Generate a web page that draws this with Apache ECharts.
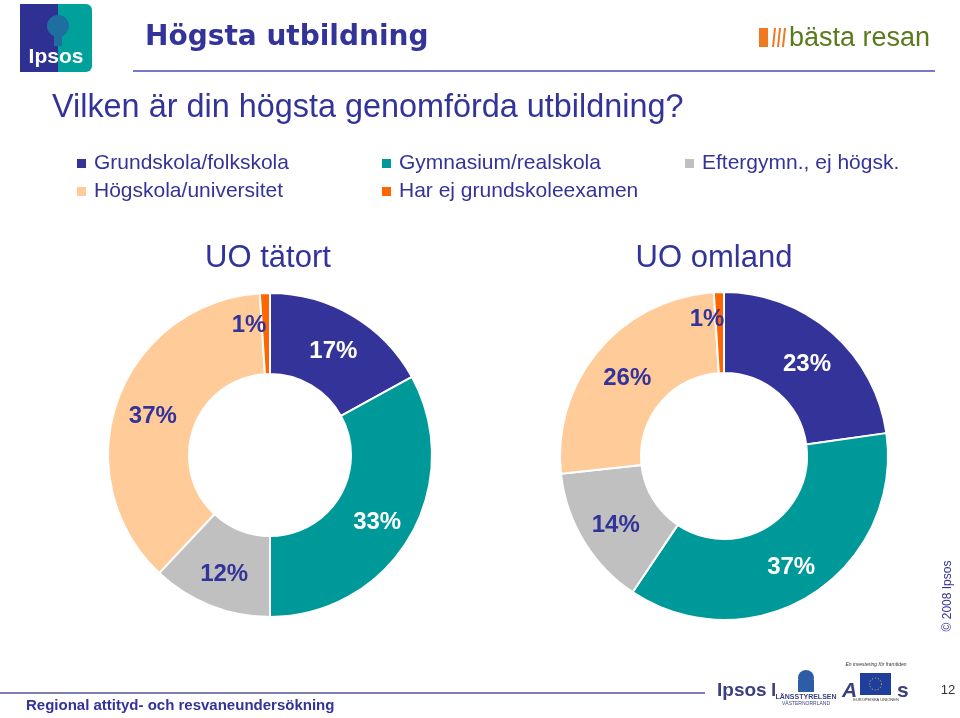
<!DOCTYPE html>
<html>
<head>
<meta charset="utf-8">
<script src="https://cdn.jsdelivr.net/npm/echarts@6/dist/echarts.min.js"></script>
<style>
html,body{margin:0;padding:0;background:#fff;}
#chart{width:960px;height:718px;}
</style>
</head>
<body>
<div id="chart"></div>
<script>
// ---- data ----
const categories = ['Grundskola/folkskola', 'Gymnasium/realskola', 'Eftergymn., ej högsk.', 'Högskola/universitet', 'Har ej grundskoleexamen'];
const tatortValues = [17, 33, 12, 37, 1];
const omlandValues = [23, 37, 14, 26, 1];
const panelTitles = ['UO tätort', 'UO omland'];

// ---- styles ----
const NAVY = '#333399';
const colors = ['#333399', '#009999', '#C0C0C0', '#FFCC99', '#FF6600'];
const labelColors = ['#ffffff', '#ffffff', NAVY, NAVY, NAVY];
const legendPos = [[75, 153], [380, 153], [683, 153], [75, 181], [380, 181]];

function buildData(values) {
  return values.map((v, i) => ({ name: categories[i], value: v, itemStyle: { color: colors[i] }, label: { color: labelColors[i] } }));
}
// label nudges (small slices get their label moved to the left of the slice, as in the original)
function nudge(values, smallShift) {
  return function (params) {
    const v = values[params.dataIndex];
    if (v < 3) return { dx: smallShift[0], dy: smallShift[1] };
    return { dy: 4 };
  };
}

const chart = echarts.init(document.getElementById('chart'), null, { renderer: 'canvas' });

const pieBase = {
  type: 'pie',
  startAngle: 90,
  clockwise: true,
  avoidLabelOverlap: false,
  itemStyle: { borderColor: '#ffffff', borderWidth: 2 },
  label: { show: true, position: 'inside', formatter: '{c}%', fontSize: 24, fontWeight: 'bold', fontFamily: 'Arial, Liberation Sans, sans-serif' },
  labelLine: { show: false },
  emphasis: { disabled: true }
};

const option = {
  animation: false,
  backgroundColor: '#ffffff',
  legend: categories.map((n, i) => ({
    data: [n],
    left: legendPos[i][0],
    top: legendPos[i][1],
    padding: 0,
    icon: 'rect',
    itemWidth: 11,
    itemHeight: 11,
    selectedMode: false,
    textStyle: { fontSize: 21, color: NAVY, fontFamily: 'Arial, Liberation Sans, sans-serif', padding: [0, 0, 0, 2] }
  })),
  series: [
    Object.assign({}, pieBase, { name: panelTitles[0], center: [270, 455], radius: [81, 162], data: buildData(tatortValues), labelLayout: nudge(tatortValues, [-17, -5]) }),
    Object.assign({}, pieBase, { name: panelTitles[1], center: [724, 456], radius: [83, 164], data: buildData(omlandValues), labelLayout: nudge(omlandValues, [-13, -10]) })
  ],
  graphic: [
    // Ipsos logo top-left
    { type: 'rect', shape: { x: 20, y: 4, width: 40, height: 68 }, style: { fill: '#2E3192' } },
    { type: 'rect', shape: { x: 58, y: 4, width: 34, height: 68, r: [0, 6, 6, 0] }, style: { fill: '#00A19A' } },
    { type: 'circle', shape: { cx: 58, cy: 26, r: 11 }, style: { fill: '#1E6FA0' } },
    { type: 'rect', shape: { x: 54, y: 34, width: 8, height: 12 }, style: { fill: '#1E6FA0' } },
    { type: 'text', style: { text: 'Ipsos', x: 56, y: 57, font: 'bold 21px Arial, Liberation Sans, sans-serif', fill: '#ffffff', textAlign: 'center', textVerticalAlign: 'middle' } },
    // header
    { type: 'text', style: { text: 'Högsta utbildning', x: 145, y: 38, font: 'bold 28px "DejaVu Sans", sans-serif', fill: NAVY, textAlign: 'left', textVerticalAlign: 'middle' } },
    { type: 'line', shape: { x1: 133, y1: 71, x2: 935, y2: 71 }, style: { stroke: '#4B4BB8', lineWidth: 1.5 } },
    // bästa resan logo
    { type: 'rect', shape: { x: 759, y: 28, width: 9, height: 19 }, style: { fill: '#F07820' } },
    { type: 'line', shape: { x1: 773, y1: 47, x2: 775, y2: 28 }, style: { stroke: '#F07820', lineWidth: 2 } },
    { type: 'line', shape: { x1: 778, y1: 47, x2: 780, y2: 28 }, style: { stroke: '#F07820', lineWidth: 2 } },
    { type: 'line', shape: { x1: 783, y1: 47, x2: 785, y2: 28 }, style: { stroke: '#F07820', lineWidth: 2 } },
    { type: 'text', style: { text: 'bästa resan', x: 789, y: 39, font: '27px Arial, Liberation Sans, sans-serif', fill: '#5A7A1E', textAlign: 'left', textVerticalAlign: 'middle' } },
    // question
    { type: 'text', style: { text: 'Vilken är din högsta genomförda utbildning?', x: 52, y: 108, font: '32.4px Arial, Liberation Sans, sans-serif', fill: NAVY, textAlign: 'left', textVerticalAlign: 'middle' } },
    // panel titles
    { type: 'text', style: { text: panelTitles[0], x: 268, y: 258, font: '31px Arial, Liberation Sans, sans-serif', fill: NAVY, textAlign: 'center', textVerticalAlign: 'middle' } },
    { type: 'text', style: { text: panelTitles[1], x: 714, y: 258, font: '31px Arial, Liberation Sans, sans-serif', fill: NAVY, textAlign: 'center', textVerticalAlign: 'middle' } },
    // copyright vertical
    { type: 'text', x: 948, y: 596, rotation: Math.PI / 2, style: { text: '© 2008 Ipsos', x: 0, y: 0, font: '12px Arial, Liberation Sans, sans-serif', fill: NAVY, textAlign: 'center', textVerticalAlign: 'middle' } },
    // footer
    { type: 'line', shape: { x1: 0, y1: 693, x2: 705, y2: 693 }, style: { stroke: '#555599', lineWidth: 1.5 } },
    { type: 'text', style: { text: 'Regional attityd- och resvaneundersökning', x: 26, y: 706, font: 'bold 15px Arial, Liberation Sans, sans-serif', fill: NAVY, textAlign: 'left', textVerticalAlign: 'middle' } },
    { type: 'text', style: { text: 'Ipsos', x: 717, y: 691, font: 'bold 19px Arial, Liberation Sans, sans-serif', fill: '#3A3F80', textAlign: 'left', textVerticalAlign: 'middle' } },
    { type: 'text', style: { text: 'l', x: 771, y: 691, font: 'bold 19px Arial, Liberation Sans, sans-serif', fill: '#3A3F80', textAlign: 'left', textVerticalAlign: 'middle' } },
    { type: 'circle', shape: { cx: 806, cy: 678, r: 8 }, style: { fill: '#2E5DA8' } },
    { type: 'rect', shape: { x: 798, y: 680, width: 16, height: 12 }, style: { fill: '#2E5DA8' } },
    { type: 'text', style: { text: 'LÄNSSTYRELSEN', x: 806, y: 697, font: 'bold 7px Arial, Liberation Sans, sans-serif', fill: '#3A3F80', textAlign: 'center', textVerticalAlign: 'middle' } },
    { type: 'text', style: { text: 'VÄSTERNORRLAND', x: 806, y: 704, font: '5px Arial, Liberation Sans, sans-serif', fill: '#3A3F80', textAlign: 'center', textVerticalAlign: 'middle' } },
    { type: 'text', style: { text: 'A', x: 842, y: 691, font: 'bold italic 21px Arial, Liberation Sans, sans-serif', fill: '#3A3F80', textAlign: 'left', textVerticalAlign: 'middle' } },
    { type: 'text', style: { text: 'En investering för framtiden', x: 876, y: 665, font: 'italic 5px Arial, Liberation Sans, sans-serif', fill: '#333333', textAlign: 'center', textVerticalAlign: 'middle' } },
    { type: 'rect', shape: { x: 860, y: 673, width: 31, height: 22 }, style: { fill: '#1F3E9E' } },
    { type: 'circle', shape: { cx: 875.5, cy: 684, r: 6 }, style: { fill: 'none', stroke: '#F5D000', lineWidth: 1, lineDash: [1, 2] } },
    { type: 'text', style: { text: 'EUROPEISKA UNIONEN', x: 876, y: 700, font: '4px Arial, Liberation Sans, sans-serif', fill: '#333333', textAlign: 'center', textVerticalAlign: 'middle' } },
    { type: 'text', style: { text: 's', x: 897, y: 691, font: 'bold 21px Arial, Liberation Sans, sans-serif', fill: '#3A3F80', textAlign: 'left', textVerticalAlign: 'middle' } },
    { type: 'text', style: { text: '12', x: 948, y: 690, font: '13px Arial, Liberation Sans, sans-serif', fill: '#333333', textAlign: 'center', textVerticalAlign: 'middle' } }
  ]
};

chart.setOption(option);
</script>
</body>
</html>
